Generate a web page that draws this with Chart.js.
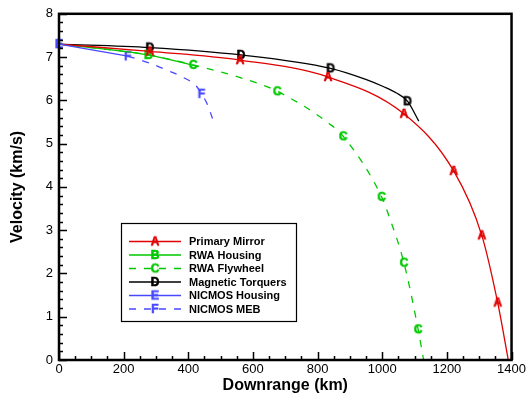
<!DOCTYPE html>
<html>
<head>
<meta charset="utf-8">
<script src="https://cdn.jsdelivr.net/npm/chart.js@4.4.0/dist/chart.umd.min.js"></script>
<style>
html,body{margin:0;padding:0;background:#fff;}
</style>
</head>
<body>
<canvas id="gp" width="528" height="399"></canvas>
<script>
const ctx = document.getElementById("gp");

// series names / symbols / look
const names = ["Primary Mirror","RWA Housing","RWA Flywheel","Magnetic Torquers","NICMOS Housing","NICMOS MEB"];
const letters = ["A","B","C","D","E","F"];
const colors = ["#e00000","#00c800","#00c800","#000000","#4848ff","#4848ff"];
const dashes = [[],[],[7,8],[],[],[7,8]];

// downrange (km) / velocity (km/s)
const mirrorKm = [0,281,560,832,1067,1221,1308,1357,1390];
const mirrorV  = [7.3,7.13,6.93,6.54,5.69,4.37,2.88,1.33,0];
const mirrorMarks = [1,2,3,4,5,6,7];

const rwaKm = [0,276,430];
const rwaV  = [7.3,7.05,6.78];
const rwaMarks = [1];

const flyKm = [0,276,415,580,675,838,879,998,1023,1067,1111,1128];
const flyV  = [7.3,7.05,6.82,6.48,6.21,5.45,5.17,3.77,3.28,2.25,0.71,0];
const flyMarks = [2,4,6,7,9,10];

const torqKm = [0,281,563,840,951,1003,1044,1078,1113];
const torqV  = [7.3,7.22,7.05,6.74,6.48,6.32,6.17,5.98,5.52];
const torqMarks = [1,2,3,7];

const nicKm = [0,213];
const nicV  = [7.3,7.02];
const nicMarks = [0];

const mebKm = [213,281,333,379,426,441,457,475];
const mebV  = [7.02,6.86,6.70,6.55,6.32,6.15,5.94,5.58];
const mebMarks = [0,5];

const allKm = [mirrorKm,rwaKm,flyKm,torqKm,nicKm,mebKm];
const allV = [mirrorV,rwaV,flyV,torqV,nicV,mebV];
const allMarks = [mirrorMarks,rwaMarks,flyMarks,torqMarks,nicMarks,mebMarks];

const FONT = '"Liberation Sans", Arial, sans-serif';

function letterIcon(ch, color){
    const c = document.createElement("canvas");
    c.width = 14; c.height = 14;
    const g = c.getContext("2d");
    g.fillStyle = color;
    g.strokeStyle = color;
    g.lineWidth = 0.6;
    g.font = "bold 12px " + FONT;
    g.textAlign = "center";
    g.textBaseline = "middle";
    g.fillText(ch, 7, 7.5);
    g.strokeText(ch, 7, 7.5);
    return c;
}

const icons = letters.map((l,i)=>letterIcon(l, colors[i]));

const chartData = {
    datasets: names.map((n,i)=>({
        label: n,
        data: allKm[i].map((x,j)=>({x:x, y:allV[i][j]})),
        borderColor: colors[i],
        backgroundColor: colors[i],
        borderWidth: 1.3,
        borderDash: dashes[i],
        showLine: true,
        cubicInterpolationMode: "monotone",
        pointStyle: icons[i],
        pointRadius: c => allMarks[i].includes(c.dataIndex) ? 5 : 0,
        clip: false,
        order: i==4 ? -1 : 0,
    })),
};

// inward ticks + frame
const axisPlugin = {
    id: "axisTicks",
    afterDraw(chart){
        const g = chart.ctx, a = chart.chartArea;
        const xs = chart.scales.x, ys = chart.scales.y;
        g.save();
        g.strokeStyle = "#000";
        g.lineWidth = 1.5;
        g.beginPath();
        for (let v=0; v<=1400; v+=50){
            const p = Math.round(xs.getPixelForValue(v))+0.5;
            const len = v%200==0 ? 8 : 4;
            g.moveTo(p, a.bottom); g.lineTo(p, a.bottom-len);
        }
        for (let k=0; k<=40; k++){
            const p = Math.round(ys.getPixelForValue(k/5))+0.5;
            const len = k%5==0 ? 8 : 4;
            g.moveTo(a.left, p); g.lineTo(a.left+len, p);
        }
        g.stroke();
        g.lineWidth = 2.5;
        g.strokeRect(a.left, a.top, a.right-a.left, a.bottom-a.top);
        g.restore();
    }
};

// legend box inside the plot
const legendPlugin = {
    id: "boxLegend",
    afterDraw(chart){
        const g = chart.ctx;
        const bx = 121.5, by = 223.5, bw = 175, bh = 98;
        g.save();
        g.fillStyle = "#fff";
        g.fillRect(bx, by, bw, bh);
        g.strokeStyle = "#000";
        g.lineWidth = 1.2;
        g.strokeRect(bx, by, bw, bh);
        names.forEach((n,i)=>{
            const y = 241.5 + i*13.5;
            g.strokeStyle = colors[i];
            g.lineWidth = 1.3;
            g.setLineDash(dashes[i]);
            g.beginPath();
            g.moveTo(129, y); g.lineTo(181, y);
            g.stroke();
            g.setLineDash([]);
            g.drawImage(icons[i], 155-7, y-7);
            g.fillStyle = "#000";
            g.font = "bold 11px " + FONT;
            g.textBaseline = "middle";
            g.textAlign = "left";
            g.fillText(n, 189, y+0.5);
        });
        g.restore();
    }
};

const chartOptions = {
    responsive: false,
    animation: false,
    layout: { padding: { top: 10, right: 16, left: 0, bottom: 0 } },
    plugins: { legend: { display: false }, tooltip: { enabled: false } },
    scales: {
        x: {
            type: "linear",
            min: 0, max: 1400,
            border: { display: false },
            grid: { display: false, drawTicks: false },
            ticks: { stepSize: 200, color: "#000", font: { size: 13, family: FONT }, padding: 2, maxRotation: 0, callback: v => String(v) },
            title: { display: true, text: "Downrange (km)", color: "#000", font: { size: 16, weight: "bold", family: FONT }, padding: { top: 0, bottom: 4 } },
            afterFit: s => { s.height = 39; },
        },
        y: {
            min: 0, max: 8,
            border: { display: false },
            grid: { display: false, drawTicks: false },
            ticks: { stepSize: 1, color: "#000", font: { size: 13, family: FONT }, padding: 6 },
            title: { display: true, text: "Velocity (km/s)", color: "#000", font: { size: 16, weight: "bold", family: FONT }, padding: { top: 8, bottom: 0 } },
            afterFit: s => { s.width = 59; },
        },
    },
};

new Chart(ctx, {
    type: "scatter",
    data: chartData,
    options: chartOptions,
    plugins: [axisPlugin, legendPlugin],
});
</script>
</body>
</html>
